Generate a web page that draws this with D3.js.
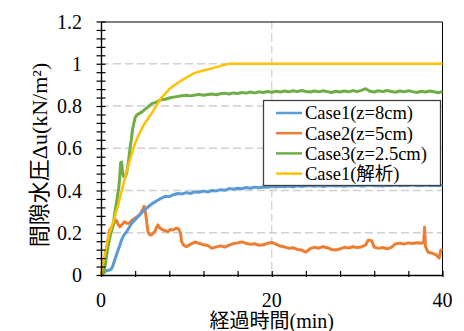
<!DOCTYPE html>
<head>
    <meta charset="utf-8" />
    <script src="https://d3js.org/d3.v7.min.js"></script>
    <style>
        body { margin: 0; background: #fff; }
    </style>
</head>
<body>
<div id="chart"></div>
<script>
    // series (time in min, pressure in kN/m2)
    const case1T = [0, 0.3, 0.6, 0.9, 1.2, 1.4, 1.6, 1.8, 2.0, 2.2, 2.4, 2.7, 3.0, 3.3, 3.6,
        4, 4.5, 5, 5.5, 6, 6.5, 7, 7.5, 8, 8.5, 9, 9.5,
        10, 10.5, 11, 11.5, 12, 12.5, 13, 13.5, 14, 14.5, 15, 15.5, 16, 16.5, 17, 17.5, 18, 18.5, 19, 19.5,
        20, 20.5, 21, 21.5, 22, 22.5, 23, 23.5, 24, 24.5, 25, 25.5, 26, 26.5, 27, 27.5, 28, 28.5, 29, 29.5,
        30, 30.5, 31, 31.5, 32, 32.5, 33, 33.5, 34, 34.5, 35, 35.5, 36, 36.5, 37, 37.5, 38, 38.5, 39, 39.5, 40];
    const case1V = [0, 0.01, 0.02, 0.022, 0.028, 0.045, 0.07, 0.095, 0.118, 0.14, 0.165, 0.19, 0.205, 0.225, 0.245,
        0.262, 0.283, 0.305, 0.322, 0.338, 0.350, 0.362, 0.372, 0.371, 0.380, 0.386, 0.384,
        0.390, 0.386, 0.394, 0.392, 0.397, 0.393, 0.400, 0.398, 0.404, 0.401, 0.409, 0.406, 0.411, 0.408, 0.414, 0.411, 0.416, 0.413, 0.417, 0.415,
        0.419, 0.416, 0.420, 0.418, 0.421, 0.417, 0.422, 0.419, 0.421, 0.424, 0.420, 0.423, 0.419, 0.422, 0.424, 0.421, 0.423, 0.420, 0.424, 0.422,
        0.425, 0.421, 0.423, 0.426, 0.422, 0.424, 0.421, 0.425, 0.423, 0.426, 0.422, 0.425, 0.423, 0.427, 0.424, 0.422, 0.426, 0.423, 0.425, 0.422, 0.426];

    const case2T = [0, 0.2, 0.43, 0.6, 0.82, 1.0, 1.2, 1.4, 1.6, 1.8, 2.0, 2.2, 2.5, 2.77, 3.0, 3.36, 3.6, 3.94, 4.2, 4.5, 4.7, 4.9,
        5.05, 5.15, 5.3, 5.5, 5.7, 5.9, 6.1, 6.3, 6.5, 6.67, 6.9, 7.26, 7.5, 7.85, 8.1, 8.4, 8.8, 9.1, 9.3, 9.45, 9.7,
        10, 10.5, 11, 11.5, 12, 12.5, 13, 13.5, 14, 14.5, 15, 15.5, 16, 16.5, 17, 17.5, 18, 18.5, 19, 19.5,
        20, 20.5, 21, 21.5, 22, 22.5, 23, 23.5, 24, 24.5, 25, 25.5, 26, 26.5, 27, 27.5, 28, 28.5, 29, 29.5,
        30, 30.5, 31, 31.3, 31.7, 32, 32.5, 33, 33.5, 34, 34.5, 35, 35.5, 36, 36.5, 37, 37.5, 37.8, 37.9, 38.0,
        38.3, 38.7, 39, 39.3, 39.6, 39.8, 40];
    const case2V = [0, 0.01, 0.04, 0.1, 0.166, 0.21, 0.225, 0.237, 0.25, 0.26, 0.24, 0.228, 0.24, 0.252, 0.245, 0.245, 0.258, 0.268, 0.275, 0.284, 0.295, 0.312,
        0.325, 0.31, 0.27, 0.205, 0.19, 0.189, 0.198, 0.205, 0.225, 0.237, 0.222, 0.213, 0.21, 0.205, 0.215, 0.213, 0.221, 0.218, 0.2, 0.158, 0.14,
        0.134, 0.146, 0.156, 0.150, 0.143, 0.140, 0.127, 0.133, 0.138, 0.132, 0.141, 0.149, 0.152, 0.157, 0.150, 0.145, 0.148, 0.141, 0.143, 0.150,
        0.154, 0.146, 0.137, 0.133, 0.126, 0.129, 0.121, 0.118, 0.108, 0.125, 0.131, 0.127, 0.134, 0.129, 0.121, 0.118, 0.124, 0.131, 0.128, 0.134,
        0.130, 0.133, 0.142, 0.165, 0.162, 0.132, 0.126, 0.130, 0.124, 0.131, 0.147, 0.151, 0.146, 0.152, 0.149, 0.153, 0.150, 0.155, 0.226, 0.135,
        0.108, 0.104, 0.100, 0.094, 0.080, 0.118, 0.115];

    const case3T = [0, 0.3, 0.5, 0.8, 1.1, 1.4, 1.6, 1.8, 2.0, 2.1, 2.2, 2.3, 2.4, 2.5, 2.6, 2.8, 3.0, 3.2, 3.4, 3.55, 3.7, 3.86,
        4.0, 4.2, 4.5, 4.8, 5.1, 5.5, 5.9, 6.5, 7, 7.5,
        8, 8.5, 9, 9.5, 10, 10.5, 11, 11.5, 12, 12.5, 13, 13.5, 14, 14.5, 15, 15.5, 16, 16.5, 17, 17.5, 18, 18.5, 19, 19.5,
        20, 20.5, 21, 21.5, 22, 22.5, 23, 23.5, 24, 24.5, 25, 25.5, 26, 26.5, 27, 27.5, 28, 28.5, 29, 29.5,
        30, 30.5, 31, 31.5, 32, 32.5, 33, 33.5, 34, 34.5, 35, 35.5, 36, 36.5, 37, 37.5, 38, 38.5, 39, 39.5, 40];
    const case3V = [0, 0.01, 0.05, 0.13, 0.19, 0.23, 0.29, 0.34, 0.39, 0.42, 0.47, 0.53, 0.535, 0.50, 0.47, 0.462, 0.48, 0.53, 0.60, 0.64, 0.69, 0.72,
        0.745, 0.758, 0.765, 0.772, 0.783, 0.795, 0.81, 0.818, 0.83, 0.832,
        0.838, 0.842, 0.845, 0.849, 0.851, 0.848, 0.852, 0.855, 0.851, 0.854, 0.857, 0.853, 0.858, 0.861, 0.857, 0.862, 0.859, 0.864, 0.861, 0.866, 0.862, 0.867, 0.864, 0.869,
        0.865, 0.870, 0.866, 0.871, 0.867, 0.872, 0.868, 0.873, 0.869, 0.866, 0.871, 0.867, 0.872, 0.868, 0.864, 0.870, 0.866, 0.871, 0.867, 0.873,
        0.868, 0.874, 0.882, 0.870, 0.866, 0.872, 0.868, 0.873, 0.869, 0.865, 0.871, 0.867, 0.872, 0.868, 0.864, 0.870, 0.866, 0.871, 0.867, 0.863, 0.868];

    const calcT = [0, 0.5, 1, 1.5, 2, 2.5, 3, 3.5, 4, 4.5, 5, 6, 7, 8, 9, 10, 11, 12, 13, 14, 15, 40];
    const calcV = [0, 0.11, 0.20, 0.26, 0.33, 0.41, 0.49, 0.56, 0.625, 0.67, 0.71, 0.77, 0.835, 0.88, 0.91, 0.935, 0.957, 0.968, 0.978, 0.99, 1.0, 1.0];

    const seriesNames = ["Case1(z=8cm)", "Case2(z=5cm)", "Case3(z=2.5cm)", "Case1(解析)"];
    const seriesColors = ["#5b9bd5", "#ed7d31", "#70ad47", "#ffc000"];

    const xTicks = [0, 20, 40];
    const yTicks = [0, 0.2, 0.4, 0.6, 0.8, 1.0, 1.2];
    const yTickLabels = ["0", "0.2", "0.4", "0.6", "0.8", "1", "1.2"];

    const FONT = "'Liberation Serif', 'Times New Roman', 'DejaVu Serif', 'Noto Sans CJK JP', serif";

    const margin = {top: 21.5, right: 21.5, bottom: 56, left: 101},
        width = 464 - margin.left - margin.right,
        height = 331 - margin.top - margin.bottom;

    const svg = d3.select("#chart").append("svg")
        .attr("width", 464).attr("height", 331)
        .attr("font-family", FONT);
    const g = svg.append("g")
        .attr("transform", "translate(" + margin.left + "," + margin.top + ")");

    const x = d3.scaleLinear().domain([0, 40]).range([0, width]);
    const y = d3.scaleLinear().domain([0, 1.2]).range([height, 0]);

    // grid
    g.selectAll(".hgrid").data(yTicks.slice(1, -1)).enter().append("line")
        .attr("x1", 0).attr("x2", width)
        .attr("y1", d => y(d)).attr("y2", d => y(d))
        .attr("stroke", "#d0d0d0").attr("stroke-width", 1.3).attr("stroke-dasharray", "8,4");
    g.selectAll(".vgrid").data(xTicks.slice(1, -1)).enter().append("line")
        .attr("y1", 0).attr("y2", height)
        .attr("x1", d => x(d)).attr("x2", d => x(d))
        .attr("stroke", "#d0d0d0").attr("stroke-width", 1.3).attr("stroke-dasharray", "8,4");

    // frame top / right
    g.append("path").attr("d", "M0,0.5H" + width + "V" + height)
        .attr("fill", "none").attr("stroke", "#000").attr("stroke-width", 1);

    // data lines
    const line = d3.line().x(d => x(d[0])).y(d => y(d[1]));
    const series = [
        d3.zip(case1T, case1V),
        d3.zip(case2T, case2V),
        d3.zip(case3T, case3V),
        d3.zip(calcT, calcV)
    ];
    // draw order: orange, blue, green, yellow
    [1, 0, 2, 3].forEach(function(i) {
        g.append("path").datum(series[i])
            .attr("d", line)
            .attr("fill", "none")
            .attr("stroke", seriesColors[i])
            .attr("stroke-width", i === 3 ? 2.5 : 3)
            .attr("stroke-linejoin", "round");
    });

    // y axis: crossing ticks every 0.04
    const yAx = g.append("g").call(d3.axisLeft(y).tickValues(d3.range(0, 1.2001, 0.04))
        .tickSizeInner(4.5).tickSizeOuter(0).tickFormat(""));
    yAx.selectAll(".tick line").attr("x1", 4.5).attr("stroke-width", 1.2);
    yAx.select(".domain").attr("stroke-width", 1.4);

    g.selectAll(".ylab").data(yTicks).enter().append("text")
        .attr("x", -19).attr("y", d => y(d)).attr("dy", "0.35em")
        .attr("text-anchor", "end").attr("font-size", 20)
        .text((d, i) => yTickLabels[i]);

    // x axis: crossing ticks every 4 min
    const xAx = g.append("g").attr("transform", "translate(0," + height + ")")
        .call(d3.axisBottom(x).tickValues(d3.range(0, 40.001, 4))
            .tickSizeInner(2).tickSizeOuter(0).tickFormat(""));
    xAx.selectAll(".tick line").attr("y1", -4).attr("stroke-width", 1.2);
    xAx.select(".domain").attr("stroke-width", 1.4);

    g.selectAll(".xlab").data(xTicks).enter().append("text")
        .attr("x", d => x(d)).attr("y", height + 32)
        .attr("text-anchor", "middle").attr("font-size", 20)
        .text(d => d);

    // axis titles
    svg.append("text")
        .attr("x", margin.left + x(20)).attr("y", 328)
        .attr("text-anchor", "middle").attr("font-size", 20)
        .text("経過時間(min)");
    svg.append("text")
        .attr("transform", "translate(47,155) rotate(-90)")
        .attr("text-anchor", "middle").attr("font-size", 22)
        .text("間隙水圧Δu(kN/m²)");

    // legend
    const lg = svg.append("g").attr("transform", "translate(263,100)");
    lg.append("rect").attr("x", 0.5).attr("y", 0.5).attr("width", 177).attr("height", 85)
        .attr("fill", "#fff").attr("stroke", "#404040").attr("stroke-width", 1.3);
    seriesNames.forEach(function(name, i) {
        const row = lg.append("g").attr("transform", "translate(0," + (13 + i * 20.2) + ")");
        row.append("line").attr("x1", 13).attr("x2", 39)
            .attr("stroke", seriesColors[i]).attr("stroke-width", 2.5);
        row.append("text").attr("x", 42).attr("dy", "0.35em")
            .attr("font-size", 18.5).text(name);
    });
</script>
</body>
